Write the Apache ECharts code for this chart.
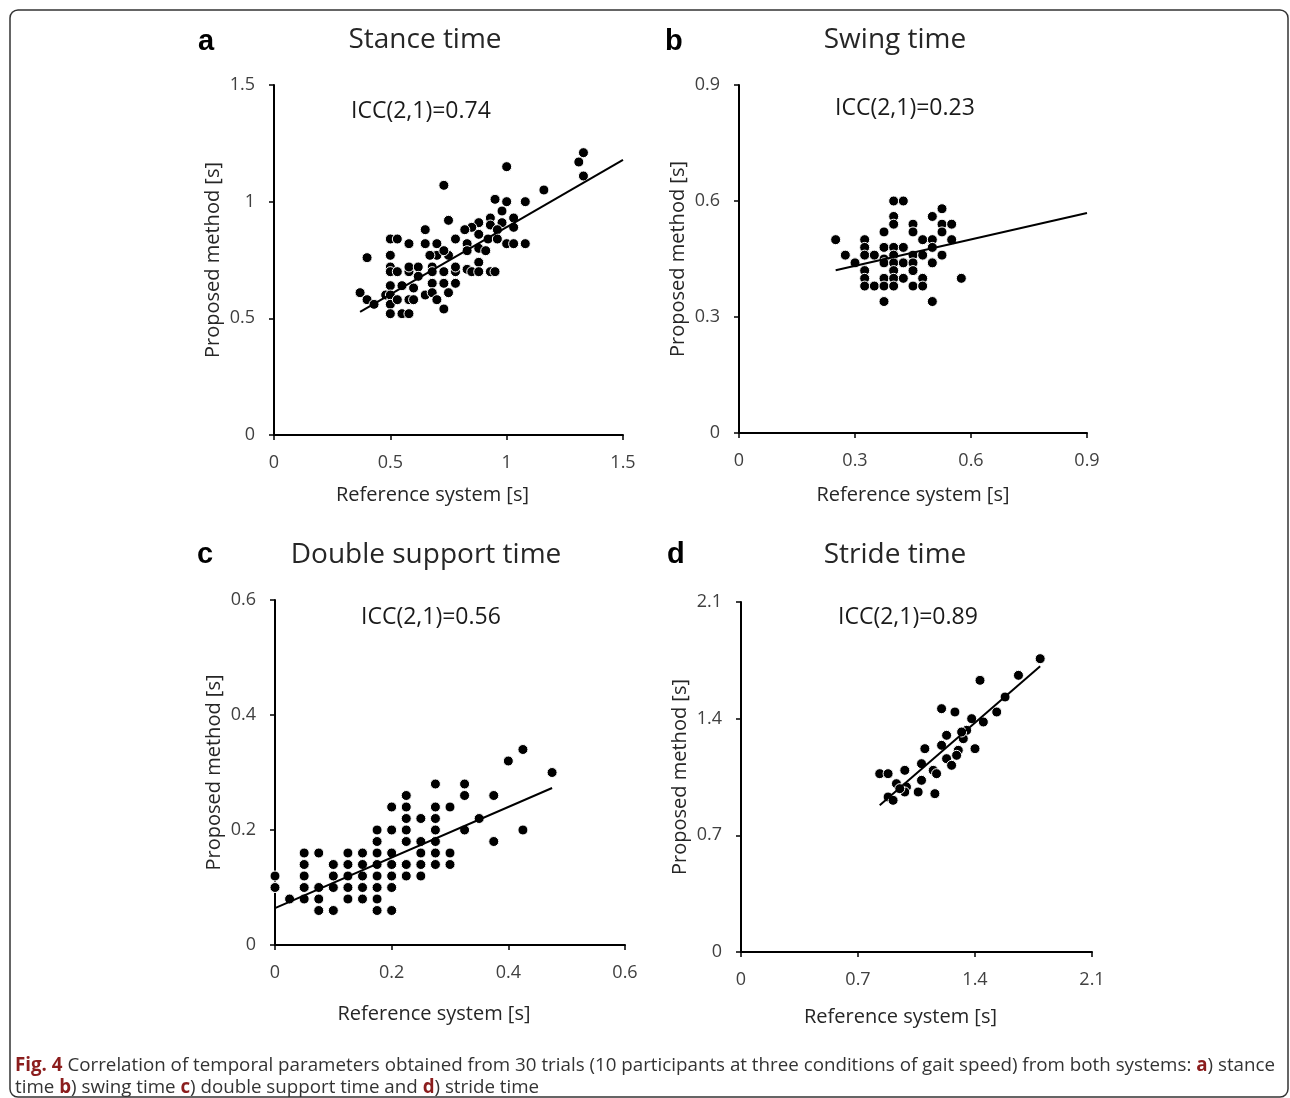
<!DOCTYPE html>
<html>
<head>
<meta charset="utf-8">
<script src="https://cdn.jsdelivr.net/npm/echarts@6/dist/echarts.min.js"></script>
<style>
  html, body { margin: 0; padding: 0; background: #fff; }
  #chart { width: 1290px; height: 1098px; }
</style>
</head>
<body>
<div id="chart"></div>
<script>
// ---- data: [reference system, proposed method] in seconds ----
const stancePoints = [
  [1.33,1.21],[1.31,1.17],[1.33,1.11],[1.00,1.15],[0.73,1.07],[1.16,1.05],[0.95,1.01],[1.00,1.00],
  [1.08,1.00],[0.98,0.96],[0.75,0.92],[0.93,0.93],[0.98,0.91],[1.03,0.93],[1.03,0.89],[0.88,0.91],
  [0.85,0.89],[0.82,0.88],[0.93,0.90],[0.96,0.88],[0.65,0.88],[0.50,0.84],[0.53,0.84],[0.58,0.82],
  [0.65,0.82],[0.70,0.82],[0.78,0.84],[0.88,0.86],[0.83,0.82],[0.92,0.84],[0.96,0.84],[1.00,0.82],
  [1.03,0.82],[1.08,0.82],[0.40,0.76],[0.50,0.77],[0.70,0.77],[0.75,0.77],[0.67,0.77],[0.73,0.79],
  [0.83,0.79],[0.88,0.80],[0.91,0.79],[0.50,0.72],[0.50,0.70],[0.53,0.70],[0.58,0.70],[0.58,0.72],
  [0.62,0.72],[0.62,0.68],[0.68,0.72],[0.68,0.70],[0.73,0.70],[0.78,0.70],[0.78,0.72],[0.83,0.71],
  [0.85,0.70],[0.88,0.74],[0.88,0.70],[0.93,0.70],[0.95,0.70],[0.68,0.65],[0.73,0.65],[0.78,0.65],
  [0.75,0.61],[0.50,0.64],[0.55,0.64],[0.60,0.63],[0.37,0.61],[0.40,0.58],[0.43,0.56],[0.48,0.60],
  [0.50,0.60],[0.50,0.56],[0.53,0.58],[0.58,0.58],[0.60,0.58],[0.65,0.60],[0.68,0.61],[0.70,0.58],
  [0.73,0.54],[0.50,0.52],[0.55,0.52],[0.58,0.52]
];
const stanceFit = [[0.37,0.528],[1.50,1.179]];

const swingPoints = [
  [0.40,0.60],[0.425,0.60],[0.525,0.58],[0.40,0.56],[0.50,0.56],[0.40,0.54],[0.45,0.54],[0.525,0.54],
  [0.55,0.54],[0.375,0.52],[0.45,0.52],[0.525,0.52],[0.25,0.50],[0.325,0.50],[0.475,0.50],[0.50,0.50],
  [0.55,0.50],[0.375,0.48],[0.325,0.48],[0.40,0.48],[0.425,0.48],[0.50,0.48],[0.275,0.46],[0.325,0.46],
  [0.35,0.46],[0.40,0.46],[0.45,0.46],[0.475,0.46],[0.525,0.46],[0.375,0.45],[0.30,0.44],[0.375,0.44],
  [0.40,0.44],[0.425,0.44],[0.45,0.44],[0.50,0.44],[0.325,0.42],[0.40,0.42],[0.45,0.42],[0.325,0.40],
  [0.375,0.40],[0.40,0.40],[0.425,0.40],[0.475,0.40],[0.575,0.40],[0.325,0.38],[0.35,0.38],[0.375,0.38],
  [0.40,0.38],[0.45,0.38],[0.475,0.38],[0.375,0.34],[0.50,0.34]
];
const swingFit = [[0.25,0.421],[0.90,0.569]];

const doubleSupportPoints = [
  [0,0.12],[0,0.10],
  [0.025,0.08],
  [0.05,0.16],[0.05,0.14],[0.05,0.12],[0.05,0.10],[0.05,0.08],
  [0.075,0.16],[0.075,0.10],[0.075,0.08],[0.075,0.06],
  [0.10,0.14],[0.10,0.12],[0.10,0.10],[0.10,0.06],
  [0.125,0.16],[0.125,0.14],[0.125,0.12],[0.125,0.10],[0.125,0.08],
  [0.15,0.16],[0.15,0.14],[0.15,0.12],[0.15,0.10],[0.15,0.08],
  [0.175,0.20],[0.175,0.18],[0.175,0.16],[0.175,0.14],[0.175,0.12],[0.175,0.10],[0.175,0.08],[0.175,0.06],
  [0.20,0.24],[0.20,0.20],[0.20,0.16],[0.20,0.14],[0.20,0.12],[0.20,0.10],[0.20,0.06],
  [0.225,0.26],[0.225,0.24],[0.225,0.22],[0.225,0.20],[0.225,0.18],[0.225,0.14],[0.225,0.12],
  [0.25,0.22],[0.25,0.18],[0.25,0.16],[0.25,0.14],[0.25,0.12],
  [0.275,0.28],[0.275,0.24],[0.275,0.22],[0.275,0.20],[0.275,0.18],[0.275,0.16],[0.275,0.14],
  [0.30,0.24],[0.30,0.16],[0.30,0.14],
  [0.325,0.28],[0.325,0.26],[0.325,0.20],
  [0.35,0.22],
  [0.375,0.26],[0.375,0.18],
  [0.40,0.32],
  [0.425,0.34],[0.425,0.20],
  [0.475,0.30]
];
const doubleSupportFit = [[0,0.064],[0.475,0.273]];

const stridePoints = [
  [1.79,1.76],[1.66,1.66],[1.43,1.63],[1.58,1.53],[1.53,1.44],[1.20,1.46],[1.28,1.44],[1.38,1.40],
  [1.45,1.38],[1.35,1.33],[1.23,1.30],[1.33,1.28],[1.10,1.22],[1.20,1.24],[1.30,1.21],[1.40,1.22],
  [1.23,1.16],[1.26,1.12],[1.08,1.13],[1.15,1.09],[0.98,1.09],[0.83,1.07],[0.88,1.07],[1.08,1.03],
  [0.93,1.01],[0.99,0.99],[1.06,0.96],[0.98,0.96],[1.16,0.95],[0.88,0.93],[0.91,0.91],
  [1.32,1.32],[1.29,1.18],[1.17,1.07],[0.95,0.98]
];
const strideFit = [[0.83,0.880],[1.79,1.714]];

// axis tick values for each panel
const stanceTicks = [0, 0.5, 1, 1.5];
const swingTicks = [0, 0.3, 0.6, 0.9];
const doubleSupportTicks = [0, 0.2, 0.4, 0.6];
const strideTicks = [0, 0.7, 1.4, 2.1];

const panelLetters = ['a', 'b', 'c', 'd'];
const panelTitles = ['Stance time', 'Swing time', 'Double support time', 'Stride time'];
const iccLabels = ['ICC(2,1)=0.74', 'ICC(2,1)=0.23', 'ICC(2,1)=0.56', 'ICC(2,1)=0.89'];
const xAxisName = 'Reference system [s]';
const yAxisName = 'Proposed method [s]';

const captionLine1 = '{red|Fig. 4} Correlation of temporal parameters obtained from 30 trials (10 participants at three conditions of gait speed) from both systems: {b|a}) stance';
const captionLine2 = 'time {b|b}) swing time {b|c}) double support time and {b|d}) stride time';

// ---- layout ----
const panels = [
  { pts: stancePoints, fit: stanceFit, ticks: stanceTicks,
    grid: { left: 274, top: 85, width: 349, height: 350 },
    letterX: 198, letterY: 42, titleX: 425, titleY: 40, iccX: 351, iccY: 111,
    xNameShift: 32, xNameGap: 50 },
  { pts: swingPoints, fit: swingFit, ticks: swingTicks,
    grid: { left: 739, top: 85, width: 348, height: 348 },
    letterX: 665, letterY: 42, titleX: 895, titleY: 40, iccX: 835, iccY: 108,
    xNameShift: 0, xNameGap: 52 },
  { pts: doubleSupportPoints, fit: doubleSupportFit, ticks: doubleSupportTicks,
    grid: { left: 275, top: 600, width: 350, height: 345 },
    letterX: 197, letterY: 555, titleX: 426, titleY: 555, iccX: 361, iccY: 617,
    xNameShift: 32, xNameGap: 59 },
  { pts: stridePoints, fit: strideFit, ticks: strideTicks,
    grid: { left: 741, top: 602, width: 351, height: 350 },
    letterX: 667, letterY: 555, titleX: 895, titleY: 555, iccX: 838, iccY: 617,
    xNameShift: 32, xNameGap: 55 }
];

const LABEL_FONT = 'Open Sans';
const axisLabelStyle = { fontFamily: LABEL_FONT, fontSize: 18, color: '#404040', margin: 19 };

function makeAxis(i, ticks, isX, shift, gap) {
  const step = ticks[1] - ticks[0];
  return {
    gridIndex: i,
    type: 'value',
    min: ticks[0],
    max: ticks[ticks.length - 1],
    interval: step,
    axisLine: { show: true, onZero: false, lineStyle: { color: '#000', width: 2 } },
    axisTick: { show: true, length: 5, lineStyle: { color: '#000', width: 1.5 } },
    axisLabel: Object.assign({}, axisLabelStyle, {
      formatter: v => String(Math.round(v * 100) / 100)
    }),
    splitLine: { show: false },
    name: isX ? xAxisName : yAxisName,
    nameLocation: 'middle',
    nameGap: gap,
    nameTextStyle: {
      fontFamily: LABEL_FONT, fontSize: 20, color: '#262626',
      padding: isX ? [0, shift, 0, 0] : [0, 0, 0, 0]
    }
  };
}

const grids = [], xAxes = [], yAxes = [], series = [], graphics = [];
panels.forEach((p, i) => {
  grids.push(Object.assign({ containLabel: false }, p.grid));
  xAxes.push(makeAxis(i, p.ticks, true, p.xNameShift, p.xNameGap));
  yAxes.push(makeAxis(i, p.ticks, false, 0, 51));
  series.push({
    type: 'scatter', xAxisIndex: i, yAxisIndex: i, data: p.pts,
    symbol: 'circle', symbolSize: 10,
    itemStyle: { color: '#000', borderColor: '#fff', borderWidth: 1, opacity: 1 },
    z: 2
  });
  series.push({
    type: 'line', xAxisIndex: i, yAxisIndex: i, data: p.fit,
    symbol: 'none', lineStyle: { color: '#000', width: 2 }, z: 3
  });
  graphics.push({
    type: 'text', x: p.letterX, y: p.letterY,
    style: { text: panelLetters[i], font: 'bold 29px "Liberation Sans", Arial, sans-serif',
             fill: '#000', textAlign: 'left', textVerticalAlign: 'middle' }
  });
  graphics.push({
    type: 'text', x: p.titleX, y: p.titleY,
    style: { text: panelTitles[i], font: '28px "Open Sans", sans-serif',
             fill: '#262626', textAlign: 'center', textVerticalAlign: 'middle' }
  });
  graphics.push({
    type: 'text', x: p.iccX, y: p.iccY,
    style: { text: iccLabels[i], font: '23px "Open Sans", sans-serif',
             fill: '#1a1a1a', textAlign: 'left', textVerticalAlign: 'middle' }
  });
});

// caption: squeeze the line horizontally to the frame width
const CAP_SIZE = 19;
const capFont = CAP_SIZE + 'px "Open Sans", sans-serif';
const capBold = 'bold ' + CAP_SIZE + 'px "Open Sans", sans-serif';
function measureRich(str) {
  const ctx = document.createElement('canvas').getContext('2d');
  let w = 0;
  str.split(/(\{\w+\|[^}]*\})/).forEach(part => {
    const m = part.match(/^\{\w+\|([^}]*)\}$/);
    ctx.font = m ? capBold : capFont;
    w += ctx.measureText(m ? m[1] : part).width;
  });
  return w;
}
const capScale = 1260 / measureRich(captionLine1);
const capRich = {
  red: { font: capBold, fill: '#8b1d1d' },
  b: { font: capBold, fill: '#8b1d1d' }
};
graphics.push({
  type: 'text', x: 15, y: 1066, scaleX: capScale,
  style: { text: captionLine1, font: capFont, fill: '#333', rich: capRich, textVerticalAlign: 'middle' }
});
graphics.push({
  type: 'text', x: 15, y: 1088, scaleX: capScale,
  style: { text: captionLine2, font: capFont, fill: '#333', rich: capRich, textVerticalAlign: 'middle' }
});

// figure frame
graphics.push({
  type: 'rect', shape: { x: 10, y: 10, width: 1278, height: 1087, r: 8 },
  style: { fill: 'none', stroke: '#333', lineWidth: 1.5 }, z: -1
});

const chart = echarts.init(document.getElementById('chart'), null, { renderer: 'canvas' });
chart.setOption({
  animation: false,
  backgroundColor: '#fff',
  grid: grids,
  xAxis: xAxes,
  yAxis: yAxes,
  series: series,
  graphic: graphics
});
</script>
</body>
</html>
